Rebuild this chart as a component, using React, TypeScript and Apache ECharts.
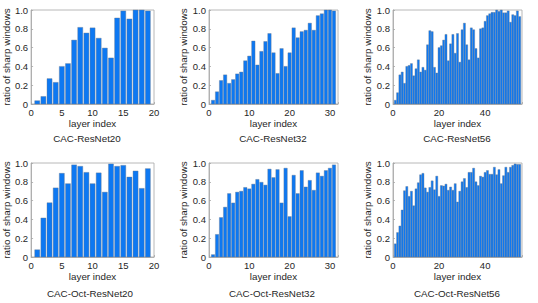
import React, { useEffect, useRef } from 'react';
import * as echarts from 'echarts';

const resNet20 = [0.035, 0.08, 0.27, 0.23, 0.4, 0.43, 0.68, 0.815, 0.755, 0.81, 0.7, 0.595, 0.49, 0.915, 0.99, 0.905, 1.0, 1.0, 0.99];
const resNet32 = [0.04, 0.13, 0.25, 0.31, 0.22, 0.26, 0.32, 0.34, 0.46, 0.51, 0.67, 0.415, 0.56, 0.665, 0.75, 0.545, 0.325, 0.59, 0.4, 0.545, 0.81, 0.705, 0.77, 0.785, 0.86, 0.785, 0.94, 0.96, 1.0, 1.0, 0.99];
const resNet56 = [0.04, 0.12, 0.31, 0.34, 0.22, 0.4, 0.41, 0.43, 0.3, 0.375, 0.47, 0.34, 0.39, 0.36, 0.63, 0.78, 0.77, 0.39, 0.33, 0.6, 0.62, 0.68, 0.74, 0.46, 0.64, 0.74, 0.54, 0.75, 0.445, 0.79, 0.86, 0.63, 0.47, 0.81, 0.79, 0.59, 0.49, 0.8, 0.81, 0.88, 0.94, 0.96, 0.975, 0.975, 1.0, 0.985, 1.0, 0.97, 0.97, 0.99, 0.87, 0.95, 0.94, 0.99, 0.93];
const octResNet20 = [0.077, 0.415, 0.577, 0.735, 0.89, 0.78, 0.98, 0.965, 0.9, 0.78, 0.895, 0.69, 0.99, 0.965, 0.975, 0.85, 0.915, 0.73, 0.94];
const octResNet32 = [0.025, 0.24, 0.42, 0.53, 0.675, 0.575, 0.69, 0.7, 0.74, 0.725, 0.775, 0.825, 0.795, 0.765, 0.935, 0.845, 0.93, 0.575, 0.945, 0.43, 0.87, 0.675, 0.92, 0.745, 0.815, 0.71, 0.895, 0.86, 0.92, 0.945, 0.98];
const octResNet56 = [0.14, 0.26, 0.33, 0.5, 0.705, 0.75, 0.645, 0.7, 0.545, 0.725, 0.79, 0.875, 0.89, 0.735, 0.69, 0.74, 0.81, 0.715, 0.86, 0.645, 0.76, 0.755, 0.775, 0.71, 0.745, 0.71, 0.78, 0.585, 0.7, 0.8, 0.835, 0.74, 0.9, 0.9, 0.945, 0.8, 0.76, 0.86, 0.85, 0.9, 0.92, 0.88, 0.88, 0.955, 0.875, 0.93, 0.78, 0.865, 0.955, 0.9, 0.955, 0.975, 0.99, 0.985, 0.985];

const panelTitles = ['CAC-ResNet20', 'CAC-ResNet32', 'CAC-ResNet56', 'CAC-Oct-ResNet20', 'CAC-Oct-ResNet32', 'CAC-Oct-ResNet56'];
const panelData = [resNet20, resNet32, resNet56, octResNet20, octResNet32, octResNet56];
const xMaxes = [20, 32, 56, 20, 32, 56];
const xTickSteps = [5, 10, 20, 5, 10, 20];
const yAxisName = 'ratio of sharp windows';
const xAxisName = 'layer index';

// layout / style
const gridLefts = [25, 209, 393];
const gridTops = [10, 163];
const gridW = 129;
const gridH = 94;
const titleXs = [87, 273, 457, 90, 272, 457];
const titleYs = [138, 293];
const barFill = [0.82, 0.84, 0.9, 0.82, 0.84, 0.9];

const FONT = '"Liberation Sans", Arial, Helvetica, sans-serif';
const TEXT = '#262626';
const AXIS = '#a6a6a6';
const BAR = '#0d78f2';
const EDGE = '#6a7a8e';

export default function App() {
  const ref = useRef<HTMLDivElement>(null);
  useEffect(() => {
    if (!ref.current) return;
    const chart = echarts.init(ref.current, undefined, { renderer: 'svg' });
    const grids: any[] = [];
    const xAxes: any[] = [];
    const yAxes: any[] = [];
    const series: any[] = [];
    const graphics: any[] = [];
    panelData.forEach((vals, i) => {
      const col = i % 3;
      const row = Math.floor(i / 3);
      grids.push({
        left: gridLefts[col], top: gridTops[row], width: gridW, height: gridH,
        show: true, borderColor: AXIS, borderWidth: 0.8, backgroundColor: 'transparent',
      });
      const step = xTickSteps[i];
      xAxes.push({
        type: 'value', gridIndex: i, min: 0, max: xMaxes[i], interval: step,
        name: xAxisName, nameLocation: 'middle', nameGap: 14,
        nameTextStyle: { fontFamily: FONT, fontSize: 9.8, color: TEXT },
        axisLine: { show: true, lineStyle: { color: AXIS, width: 0.8 } },
        axisTick: { show: true, inside: true, length: 2, lineStyle: { color: AXIS, width: 0.8 } },
        splitLine: { show: false },
        axisLabel: {
          margin: 3, fontFamily: FONT, fontSize: 9.5, color: TEXT,
          formatter: (v: number) => (v % step === 0 ? String(v) : ''),
        },
      });
      yAxes.push({
        type: 'value', gridIndex: i, min: 0, max: 1, interval: 0.2,
        name: yAxisName, nameLocation: 'middle', nameGap: 15,
        nameTextStyle: { fontFamily: FONT, fontSize: 9.8, color: TEXT },
        axisLine: { show: true, lineStyle: { color: AXIS, width: 0.8 } },
        axisTick: { show: true, inside: true, length: 2, lineStyle: { color: AXIS, width: 0.8 } },
        splitLine: { show: false },
        axisLabel: {
          margin: 3, fontFamily: FONT, fontSize: 9.5, color: TEXT,
          formatter: (v: number) => (v === 0 ? '0' : v.toFixed(1)),
        },
      });
      const half = barFill[i] / 2;
      series.push({
        type: 'custom', xAxisIndex: i, yAxisIndex: i,
        data: vals.map((v, k) => [k + 1, v]),
        encode: { x: 0, y: 1 },
        silent: true,
        renderItem: (params: any, api: any) => {
          const x = api.value(0);
          const y = api.value(1);
          const p0 = api.coord([x - half, y]);
          const p1 = api.coord([x + half, 0]);
          return {
            type: 'rect',
            shape: { x: p0[0], y: p0[1], width: p1[0] - p0[0], height: p1[1] - p0[1] },
            style: { fill: BAR, stroke: EDGE, lineWidth: 0.4 },
          };
        },
      });
      graphics.push({
        type: 'text', x: titleXs[i], y: titleYs[row],
        style: {
          text: panelTitles[i], fill: TEXT, font: `9.8px ${FONT}`,
          textAlign: 'center', textVerticalAlign: 'middle', align: 'center', verticalAlign: 'middle',
        },
      });
    });
    chart.setOption({
      animation: false,
      backgroundColor: '#ffffff',
      grid: grids,
      xAxis: xAxes,
      yAxis: yAxes,
      series,
      graphic: graphics,
    });
    return () => chart.dispose();
  }, []);
  return <div ref={ref} style={{ position: 'fixed', left: 0, top: 0, width: 538, height: 303 }} />;
}
